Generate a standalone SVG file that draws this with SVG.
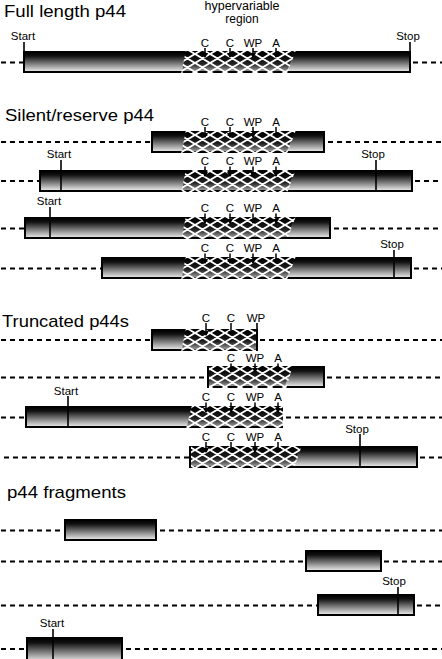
<svg xmlns="http://www.w3.org/2000/svg" width="442" height="659" viewBox="0 0 442 659">
<defs>
<linearGradient id="g" x1="0" y1="0" x2="0" y2="1">
<stop offset="0" stop-color="#000"/>
<stop offset="0.2" stop-color="#111"/>
<stop offset="1" stop-color="#f0f0f0"/>
</linearGradient>
<linearGradient id="gd" x1="0" y1="0" x2="0" y2="1">
<stop offset="0" stop-color="#000"/>
<stop offset="0.6" stop-color="#222"/>
<stop offset="1" stop-color="#999"/>
</linearGradient>
<pattern id="h" patternUnits="userSpaceOnUse" width="15" height="9">
<path d="M-15,0 L0,9 M0,0 L15,9 M15,0 L30,9 M-15,9 L0,0 M0,9 L15,0 M15,9 L30,0" stroke="#fff" stroke-width="1.9" fill="none"/>
</pattern>
<marker id="ar" markerUnits="userSpaceOnUse" markerWidth="6" markerHeight="6" refX="3" refY="5" orient="0" viewBox="0 0 6 6">
<path d="M0,1 L6,1 L3,6 z" fill="#000"/>
</marker>
<style>
text{font-family:"Liberation Sans",Arial,Helvetica,sans-serif;fill:#000}
.t{font-size:17px}
.l{font-size:11.5px;text-anchor:middle}
.hv{font-size:12px;text-anchor:middle}
.bar{fill:url(#g);stroke:#000;stroke-width:2}
.fill{fill:url(#g)}
.edge{fill:none;stroke:#000;stroke-width:2}
.under{fill:url(#gd)}
.hatch{fill:url(#h)}
.dash{stroke:#000;stroke-width:1.8;stroke-dasharray:5 4;fill:none}
.tk{stroke:#000;stroke-width:1.5;marker-end:url(#ar)}
.ss{stroke:#000;stroke-width:1.6}
</style>
</defs>

<g id="titles">
<text class="t" x="4" y="17" textLength="122" lengthAdjust="spacingAndGlyphs">Full length p44</text>
<text class="t" x="5" y="120.5" textLength="149" lengthAdjust="spacingAndGlyphs">Silent/reserve p44</text>
<text class="t" x="2" y="327" textLength="127" lengthAdjust="spacingAndGlyphs">Truncated p44s</text>
<text class="t" x="7" y="498" textLength="119" lengthAdjust="spacingAndGlyphs">p44 fragments</text>
<text class="hv" x="242" y="10" textLength="75" lengthAdjust="spacingAndGlyphs">hypervariable</text>
<text class="hv" x="242" y="22.5">region</text>
</g>

<g id="connectors">
<path class="dash" d="M1,62.5H24 M413,62.5H442"/>
<path class="dash" d="M1,142H152 M328,142H442"/>
<path class="dash" d="M1,181H40 M415,181H442"/>
<path class="dash" d="M1,228.5H25 M334,228.5H442"/>
<path class="dash" d="M1,268.5H102 M414,268.5H442"/>
<path class="dash" d="M1,340H152 M260,340H442"/>
<path class="dash" d="M1,377.5H208 M327,377.5H442"/>
<path class="dash" d="M1,417.5H26 M286,417.5H442"/>
<path class="dash" d="M4,457.5H190 M420,457.5H442"/>
<path class="dash" d="M1,530.5H65 M160,530.5H442"/>
<path class="dash" d="M1,561.5H306 M384,561.5H442"/>
<path class="dash" d="M1,605.5H318 M417,605.5H442"/>
<path class="dash" d="M1,649H27 M126,649H442"/>
</g>

<g id="full-length">
<rect class="bar" x="24" y="52" width="386" height="20"/>
<polygon class="under" points="186,53 294,53 287,71 182,71"/>
<polygon class="hatch" points="186,50 296,50 287,74 181,74"/>
<line class="tk" x1="205" y1="48" x2="205" y2="57"/><text class="l" x="205" y="46.5">C</text>
<line class="tk" x1="230" y1="48" x2="230" y2="57"/><text class="l" x="230" y="46.5">C</text>
<line class="tk" x1="253" y1="48" x2="253" y2="57"/><text class="l" x="253" y="46.5">WP</text>
<line class="tk" x1="276" y1="48" x2="276" y2="57"/><text class="l" x="276" y="46.5">A</text>
<line class="ss" x1="24" y1="42" x2="24" y2="72"/><text class="l" x="23" y="40">Start</text>
<line class="ss" x1="410" y1="42" x2="410" y2="72"/><text class="l" x="408" y="40">Stop</text>
</g>

<g id="silent-1">
<rect class="bar" x="152" y="132" width="172" height="20"/>
<polygon class="under" points="186,133 294,133 287,151 182,151"/>
<polygon class="hatch" points="186,130 296,130 287,154 181,154"/>
<line class="tk" x1="205" y1="127" x2="205" y2="137"/><text class="l" x="205" y="125.5">C</text>
<line class="tk" x1="230" y1="127" x2="230" y2="137"/><text class="l" x="230" y="125.5">C</text>
<line class="tk" x1="253" y1="127" x2="253" y2="137"/><text class="l" x="253" y="125.5">WP</text>
<line class="tk" x1="276" y1="127" x2="276" y2="137"/><text class="l" x="276" y="125.5">A</text>
</g>

<g id="silent-2">
<rect class="bar" x="40" y="171" width="372" height="20"/>
<polygon class="under" points="186,172 294,172 287,190 182,190"/>
<polygon class="hatch" points="186,169 296,169 287,193 181,193"/>
<line class="tk" x1="205" y1="166.5" x2="205" y2="176"/><text class="l" x="205" y="165">C</text>
<line class="tk" x1="230" y1="166.5" x2="230" y2="176"/><text class="l" x="230" y="165">C</text>
<line class="tk" x1="253" y1="166.5" x2="253" y2="176"/><text class="l" x="253" y="165">WP</text>
<line class="tk" x1="276" y1="166.5" x2="276" y2="176"/><text class="l" x="276" y="165">A</text>
<line class="ss" x1="61" y1="160" x2="61" y2="191"/><text class="l" x="59" y="158">Start</text>
<line class="ss" x1="376" y1="160" x2="376" y2="191"/><text class="l" x="373" y="158">Stop</text>
</g>

<g id="silent-3">
<rect class="bar" x="25" y="218" width="305" height="20"/>
<polygon class="under" points="186,219 294,219 287,237 182,237"/>
<polygon class="hatch" points="186,216 296,216 287,240 181,240"/>
<line class="tk" x1="205" y1="213.5" x2="205" y2="223"/><text class="l" x="205" y="212">C</text>
<line class="tk" x1="230" y1="213.5" x2="230" y2="223"/><text class="l" x="230" y="212">C</text>
<line class="tk" x1="253" y1="213.5" x2="253" y2="223"/><text class="l" x="253" y="212">WP</text>
<line class="tk" x1="276" y1="213.5" x2="276" y2="223"/><text class="l" x="276" y="212">A</text>
<line class="ss" x1="50" y1="207" x2="50" y2="238"/><text class="l" x="49" y="205">Start</text>
</g>

<g id="silent-4">
<rect class="bar" x="102" y="258" width="309" height="20"/>
<polygon class="under" points="186,259 294,259 287,277 182,277"/>
<polygon class="hatch" points="186,256 296,256 287,280 181,280"/>
<line class="tk" x1="205" y1="253.5" x2="205" y2="263"/><text class="l" x="205" y="252">C</text>
<line class="tk" x1="230" y1="253.5" x2="230" y2="263"/><text class="l" x="230" y="252">C</text>
<line class="tk" x1="253" y1="253.5" x2="253" y2="263"/><text class="l" x="253" y="252">WP</text>
<line class="tk" x1="276" y1="253.5" x2="276" y2="263"/><text class="l" x="276" y="252">A</text>
<line class="ss" x1="394" y1="250" x2="394" y2="278"/><text class="l" x="392" y="248">Stop</text>
</g>

<g id="truncated-1">
<rect class="bar" x="152" y="330" width="105" height="20"/>
<polygon class="under" points="186,331 256,331 256,349 182,349"/>
<polygon class="hatch" points="186,328 256,328 256,352 181,352"/>
<line class="tk" x1="206" y1="323" x2="206" y2="335"/><text class="l" x="206" y="321.5">C</text>
<line class="tk" x1="231" y1="323" x2="231" y2="335"/><text class="l" x="231" y="321.5">C</text>
<line class="ss" x1="257" y1="323" x2="257" y2="351"/><text class="l" x="256" y="321.5">WP</text>
</g>

<g id="truncated-2">
<rect class="bar" x="208" y="367" width="116" height="20"/>
<polygon class="under" points="209,368 291,368 285,386 209,386"/>
<polygon class="hatch" points="209,365 293,365 286,389 209,389"/>
<line class="tk" x1="231" y1="363.5" x2="231" y2="372"/><text class="l" x="231" y="362">C</text>
<line class="tk" x1="255" y1="363.5" x2="255" y2="372"/><text class="l" x="255" y="362">WP</text>
<line class="tk" x1="278" y1="363.5" x2="278" y2="372"/><text class="l" x="278" y="362">A</text>
</g>

<g id="truncated-3">
<rect class="fill" x="26" y="407" width="257" height="20"/>
<path class="edge" d="M283,407H26V427H283"/>
<polygon class="under" points="192,408 283,408 283,426 187,426"/>
<polygon class="hatch" points="192,405 285,405 285,429 186,429"/>
<line class="tk" x1="206" y1="402.5" x2="206" y2="412"/><text class="l" x="206" y="401">C</text>
<line class="tk" x1="231" y1="402.5" x2="231" y2="412"/><text class="l" x="231" y="401">C</text>
<line class="tk" x1="255" y1="402.5" x2="255" y2="412"/><text class="l" x="255" y="401">WP</text>
<line class="tk" x1="278" y1="402.5" x2="278" y2="412"/><text class="l" x="278" y="401">A</text>
<line class="ss" x1="68" y1="396" x2="68" y2="427"/><text class="l" x="66" y="394.5">Start</text>
</g>

<g id="truncated-4">
<rect class="bar" x="190" y="447" width="227" height="20"/>
<polygon class="under" points="191,448 300,448 293,466 191,466"/>
<polygon class="hatch" points="191,445 302,445 294,469 191,469"/>
<line class="tk" x1="206" y1="442" x2="206" y2="452"/><text class="l" x="206" y="440.5">C</text>
<line class="tk" x1="231" y1="442" x2="231" y2="452"/><text class="l" x="231" y="440.5">C</text>
<line class="tk" x1="255" y1="442" x2="255" y2="452"/><text class="l" x="255" y="440.5">WP</text>
<line class="tk" x1="278" y1="442" x2="278" y2="452"/><text class="l" x="278" y="440.5">A</text>
<line class="ss" x1="360" y1="434" x2="360" y2="467"/><text class="l" x="357" y="432.5">Stop</text>
</g>

<g id="fragment-1">
<rect class="bar" x="65" y="520" width="91" height="20"/>
</g>
<g id="fragment-2">
<rect class="bar" x="306" y="551" width="75" height="20"/>
</g>
<g id="fragment-3">
<rect class="bar" x="318" y="595" width="96" height="20"/>
<line class="ss" x1="398" y1="587" x2="398" y2="615"/><text class="l" x="394" y="585">Stop</text>
</g>
<g id="fragment-4">
<rect class="bar" x="27" y="638" width="95" height="24"/>
<line class="ss" x1="53" y1="629" x2="53" y2="659"/><text class="l" x="52" y="627">Start</text>
</g>
</svg>
